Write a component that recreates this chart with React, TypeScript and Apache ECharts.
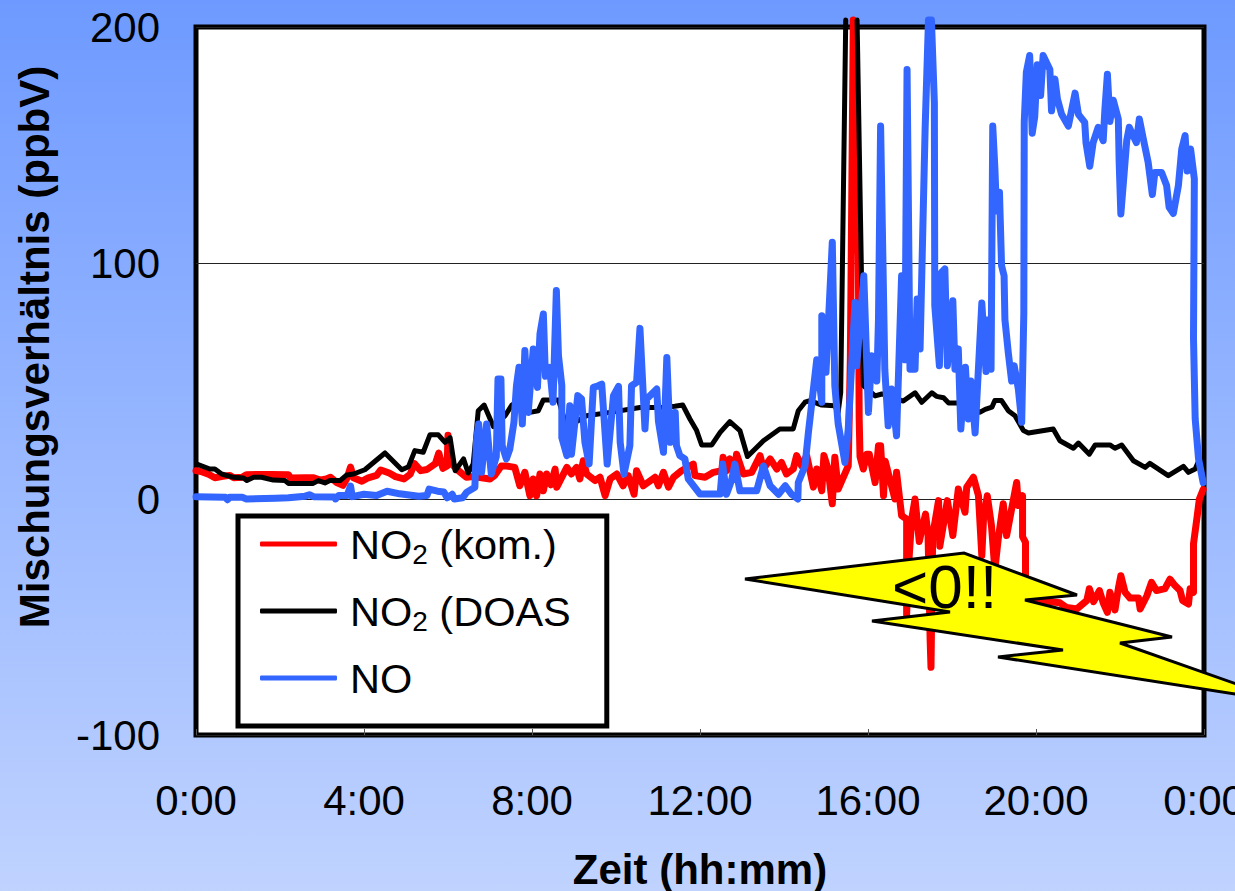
import React, { useEffect, useRef } from "react";
import * as echarts from "echarts";

const xTickHours = [0, 4, 8, 12, 16, 20, 24];
const xLabels = ["0:00", "4:00", "8:00", "12:00", "16:00", "20:00", "0:00"];
const seriesNames = ["NO2 (kom.)", "NO2 (DOAS", "NO"];
const xTitle = "Zeit (hh:mm)";
const yTitle = "Mischungsverhältnis (ppbV)";
const calloutText = "<0!!";

const no2Kom: number[][] = [
  [0,12],[0.15,11.5],[0.3,10.5],[0.45,9],[0.6,9.5],[0.8,10],[0.9,9],[1.1,9.2],[1.2,10.3],[1.5,10.4],[1.8,10.4],[2.2,10.3],[2.25,8.9],[2.6,9],[2.8,9],[2.95,8],[3.1,8.5],[3.2,9.2],[3.35,7],[3.5,5.8],[3.6,9],[3.68,13.5],[3.75,9],[3.95,7.5],[4.1,9],[4.3,10],[4.4,12.3],[4.6,11],[4.75,9.5],[4.95,8.5],[5.1,10.5],[5.2,15],[5.35,12],[5.5,12.5],[5.7,15],[5.78,19.5],[5.88,13],[5.98,14],[6.0,27],[6.08,15],[6.25,12],[6.44,9.2],[6.6,9.5],[7.0,8.5],[7.11,10],[7.27,14],[7.39,14],[7.59,13.4],[7.71,5.6],[7.83,11.3],[7.95,1.4],[8.03,8.5],[8.11,1.4],[8.19,10.6],[8.27,3.5],[8.35,10.6],[8.45,6],[8.55,12.7],[8.59,5],[8.83,13.4],[8.94,10.6],[9.06,13.4],[9.14,8.5],[9.22,16.2],[9.3,10.6],[9.5,7.8],[9.62,9.2],[9.74,1.4],[9.86,8.5],[10.02,10.6],[10.17,5.6],[10.29,9.9],[10.43,2],[10.49,12],[10.65,5.6],[10.93,9.2],[11.01,5.6],[11.13,11.3],[11.25,5],[11.37,9.2],[11.56,12],[11.84,14.8],[11.88,9.9],[12.12,9.2],[12.32,11.3],[12.52,12],[12.55,17.7],[12.64,12],[12.71,17],[12.83,12],[12.87,19],[13.03,10.6],[13.23,11.3],[13.43,18.4],[13.51,12.7],[13.67,17],[13.83,12.7],[13.94,15.5],[14.06,10.6],[14.22,12.7],[14.3,18.4],[14.42,14],[14.54,18.4],[14.7,5],[14.78,12.7],[14.9,3.5],[14.95,18.4],[15.05,12.7],[15.15,-2],[15.21,17.7],[15.29,4.2],[15.53,14],[15.58,60],[15.65,203],[15.72,160],[15.77,103],[15.79,34],[15.81,18],[15.89,12.7],[15.97,19],[16.03,19],[16.17,7],[16.25,22.6],[16.3,22.6],[16.37,1.4],[16.41,16],[16.64,0],[16.68,11.3],[16.8,-7],[16.92,-8.5],[16.92,-49],[16.96,-30],[17.04,-8.5],[17.12,0],[17.22,-18],[17.37,-6.4],[17.43,-15],[17.48,-60],[17.5,-71.3],[17.54,-15.5],[17.68,-0.7],[17.71,-20],[17.89,-0.7],[18.02,-15.5],[18.15,4.2],[18.31,-5.6],[18.35,5],[18.51,9.2],[18.63,1.4],[18.71,-24],[18.75,-8.5],[18.84,1.4],[18.94,-11.3],[19.02,-30],[19.1,-17],[19.22,-2],[19.3,-15.5],[19.42,-4.2],[19.54,7],[19.58,-2.8],[19.68,1.4],[19.68,-16],[19.75,-18.4],[19.75,-39.5],[19.94,-42],[20.33,-43.5],[20.57,-44],[20.73,-46],[20.97,-46.6],[21.21,-43],[21.27,-38],[21.37,-43.5],[21.51,-38.8],[21.6,-44],[21.7,-48],[21.76,-39.5],[21.88,-47],[21.96,-38],[22.02,-32.5],[22.12,-39.5],[22.24,-42],[22.44,-42],[22.48,-46.6],[22.64,-41],[22.75,-35.3],[22.87,-38.8],[23.07,-38],[23.19,-34],[23.31,-36.7],[23.43,-38.8],[23.49,-43],[23.63,-44.5],[23.67,-38],[23.75,-39.5],[23.75,-19],[23.84,-7],[23.89,0],[23.98,4],
];

const no2Doas: (number | null)[][] = [
  [0.02,14.8],[0.33,12.7],[0.45,12.7],[0.61,10.6],[0.89,9.2],[1.13,8.9],[1.21,7.8],[1.37,9.2],[1.56,9.2],[1.84,8],[2.12,7.8],[2.2,6.6],[2.79,6.6],[2.91,7.8],[3.07,6.8],[3.19,7.8],[3.43,7.8],[3.59,10.2],[3.75,10.6],[4.02,12.4],[4.5,19.5],[4.9,12.4],[5.06,13.7],[5.21,20.5],[5.41,19.8],[5.57,27.2],[5.77,27.2],[5.93,24],[6.05,26],[6.17,12],[6.37,17],[6.48,11],[6.6,14.8],[6.72,37.4],[6.86,39.8],[7.08,30.7],[7.36,35.3],[7.52,39.8],[7.67,41.5],[7.95,36.7],[8.15,37.4],[8.27,42],[8.63,42],[8.83,30.4],[9.3,35.3],[9.86,36.7],[10.57,38.8],[11.13,38.8],[11.4,39.3],[11.59,39.8],[11.76,33.9],[11.92,29],[12.04,22.9],[12.28,22.9],[12.48,28.2],[12.71,32.8],[12.95,29],[13.13,18],[13.51,24.7],[13.9,29.7],[14.22,29.7],[14.34,37.4],[14.5,41],[14.62,41.7],[14.9,39.8],[15.21,39.5],[15.29,36.7],[15.35,45],[15.47,203],[15.6,null],[15.74,203],[15.89,48],[16.17,43.7],[16.33,44.5],[16.84,41.5],[17.12,45],[17.28,41],[17.52,45],[17.63,43.5],[17.8,42.9],[17.92,40.7],[18.15,40.7],[18.67,36.8],[18.79,38],[18.95,38.9],[19.02,41.7],[19.18,41.7],[19.34,37.4],[19.5,35.3],[19.7,29],[19.82,28],[20.41,29.7],[20.57,24.7],[20.89,21.5],[21.01,23.7],[21.27,19],[21.41,22.9],[21.76,22.9],[21.88,21.5],[22.04,22.9],[22.32,16.2],[22.6,13.4],[22.71,15.1],[23.15,9.9],[23.51,13.8],[23.63,11.3],[23.79,12.7],[23.87,16],[23.98,7],
];

const no: number[][] = [
  [0,1],[0.7,0.7],[0.75,-0.3],[0.8,0.7],[1.1,0.7],[1.2,0],[1.9,0.3],[2.2,0.5],[2.6,1.2],[2.7,1.8],[2.8,1],[3.3,0.9],[3.32,0],[3.4,1.5],[3.6,1.5],[3.68,5.5],[3.72,1],[4.0,2],[4.3,1.5],[4.55,3.3],[4.85,2.2],[5.3,1.2],[5.5,1.5],[5.55,4.2],[5.75,3.3],[5.9,3],[5.98,0.5],[6.1,2],[6.15,0],[6.35,0.5],[6.44,2.8],[6.64,5],[6.68,25],[6.73,31.8],[6.8,11.3],[6.92,31.8],[7.03,10.6],[7.15,18],[7.19,50.8],[7.26,50.8],[7.29,22.6],[7.39,17],[7.47,21],[7.57,32.5],[7.63,48],[7.69,55.8],[7.77,31.8],[7.83,62.9],[7.91,36.7],[8.03,63.6],[8.13,47.3],[8.19,70],[8.27,78.4],[8.32,52],[8.42,55.8],[8.5,41],[8.58,88.3],[8.63,60.7],[8.71,48],[8.71,26],[8.83,18.4],[8.9,39.5],[8.94,19],[9.09,43.8],[9.18,42.4],[9.26,24],[9.36,14.8],[9.46,47.3],[9.58,48],[9.66,48.7],[9.79,14.8],[9.94,43.8],[10.06,47.7],[10.1,24],[10.19,10.6],[10.33,22.6],[10.37,48],[10.49,49.4],[10.57,72.3],[10.69,29.7],[10.73,42.4],[10.97,46.6],[11.01,33],[11.13,19.8],[11.21,60],[11.29,24],[11.41,36.7],[11.44,22.6],[11.52,18.4],[11.64,17],[11.72,8.5],[12,2.1],[12.48,2.1],[12.54,14.8],[12.63,2],[12.75,7.8],[12.83,14.8],[12.95,3.5],[13.35,3.5],[13.51,14],[13.67,5.6],[13.87,2],[14.03,5.6],[14.18,2],[14.33,0],[14.34,7],[14.5,14],[14.58,28],[14.7,46.6],[14.78,59],[14.9,41],[14.9,77.7],[15,53.7],[15.15,108.8],[15.21,48],[15.29,31.8],[15.45,15.5],[15.53,29.7],[15.69,83.3],[15.73,56.5],[15.9,94.6],[16.01,36.7],[16.09,60.7],[16.21,50],[16.25,76.3],[16.3,158],[16.4,55],[16.48,31],[16.56,46.6],[16.68,26.8],[16.8,94.6],[16.88,59],[16.93,182],[17,55],[17.12,55],[17.17,84.7],[17.24,63.6],[17.36,156.8],[17.44,203],[17.51,203],[17.58,168],[17.59,82],[17.7,56.5],[17.75,96],[17.83,97.5],[17.89,56.5],[18.02,84],[18.07,55],[18.15,63.6],[18.21,29.7],[18.32,55.8],[18.39,33.9],[18.45,50],[18.55,28],[18.71,83],[18.81,54],[18.86,76],[18.93,55],[18.97,158],[19.02,140.5],[19.06,122],[19.13,130],[19.18,98.9],[19.24,94.6],[19.26,76],[19.34,62],[19.42,50],[19.48,56.5],[19.58,46.6],[19.66,32.5],[19.71,79],[19.72,159.6],[19.77,180.8],[19.85,187.9],[19.91,155],[19.97,162],[20.03,184],[20.11,171],[20.17,187.9],[20.33,182],[20.37,164.5],[20.45,178],[20.51,169.5],[20.61,163],[20.77,158],[20.93,172],[21.01,163],[21.16,159.6],[21.19,151],[21.28,141],[21.36,151],[21.48,157.5],[21.6,151.8],[21.64,165],[21.7,180],[21.76,160],[21.84,169],[21.96,161],[21.98,142.7],[22.02,120.8],[22.1,138.4],[22.16,151.8],[22.22,157.5],[22.39,151],[22.46,161],[22.55,153],[22.67,142.7],[22.77,129],[22.83,138.4],[22.99,138.4],[23.11,132.8],[23.17,123.6],[23.27,121],[23.39,132.8],[23.47,148.3],[23.55,154],[23.6,139],[23.68,148.3],[23.77,135.6],[23.75,68],[23.79,34],[23.87,17],[23.98,7],
];

const FONT = "Liberation Sans";
const RED = "#ff0000";
const BLUE = "#3366ff";

export default function App() {
  const ref = useRef<HTMLDivElement>(null);
  useEffect(() => {
    const chart = echarts.init(ref.current!, undefined, { renderer: "svg" });
    const lineSeries = (name: string, data: (number | null)[][], color: string, width: number) => ({
      name,
      type: "line",
      data,
      showSymbol: false,
      symbol: "none",
      clip: false,
      connectNulls: false,
      lineStyle: { color, width, cap: "round", join: "round" },
      itemStyle: { color },
    });
    chart.setOption({
      animation: false,
      backgroundColor: {
        type: "linear", x: 0, y: 0, x2: 0, y2: 1,
        colorStops: [{ offset: 0, color: "#6e9aff" }, { offset: 1, color: "#c0d3ff" }],
      },
      grid: {
        show: true, left: 196, right: 31, top: 27, bottom: 156, outerBoundsMode: "none",
        backgroundColor: "#ffffff", borderColor: "#000000", borderWidth: 5,
      },
      xAxis: {
        type: "value", min: xTickHours[0], max: xTickHours[xTickHours.length - 1], interval: 4,
        name: xTitle, nameLocation: "middle", nameGap: 113,
        nameTextStyle: { fontFamily: FONT, fontSize: 42, fontWeight: "bold", color: "#000" },
        splitLine: { show: false },
        axisLine: { show: false, onZero: false },
        axisTick: { show: true, inside: true, length: 6, lineStyle: { color: "#555", width: 1 } },
        axisLabel: {
          margin: 44, fontFamily: FONT, fontSize: 42, color: "#000", hideOverlap: false,
          showMinLabel: true, showMaxLabel: true,
          formatter: (v: number) => xLabels[xTickHours.indexOf(v)] ?? "",
        },
      },
      yAxis: {
        type: "value", min: -100, max: 200, interval: 100,
        name: yTitle, nameLocation: "middle", nameGap: 141,
        nameTextStyle: {
          fontFamily: FONT, fontSize: 42, fontWeight: "bold", color: "#000",
          padding: [0, 0, 0, 68],
        },
        splitLine: { show: true, lineStyle: { color: "#222", width: 1 } },
        axisLine: { show: false },
        axisTick: { show: false },
        axisLabel: { margin: 36, fontFamily: FONT, fontSize: 42, color: "#000" },
      },
      legend: {
        show: true, orient: "vertical", left: 238, top: 516,
        padding: [7, 36, 27, 22], itemGap: 22,
        backgroundColor: "#ffffff", borderColor: "#000000", borderWidth: 5,
        icon: "roundRect", itemWidth: 77, itemHeight: 5,
        data: seriesNames,
        formatter: (n: string) => n.replace("NO2", "NO{sub|2}"),
        textStyle: {
          fontFamily: FONT, fontSize: 41.5, color: "#000", padding: [0, 0, 0, 8],
          rich: { sub: { fontFamily: FONT, fontSize: 28, color: "#000", padding: [20, 0, 0, 0] } },
        },
      },
      series: [
        lineSeries(seriesNames[0], no2Kom, RED, 7),
        lineSeries(seriesNames[1], no2Doas, "#000000", 5),
        lineSeries(seriesNames[2], no, BLUE, 7),
      ],
      graphic: [
        {
          type: "polygon", z: 100,
          shape: {
            points: [
              [745, 579], [964, 553], [1077, 595], [1025, 600], [1172, 637], [1120, 643],
              [1245, 687], [1235, 694], [998, 657], [1063, 650], [872, 621], [950, 612],
            ],
          },
          style: { fill: "#ffff00", stroke: "#000000", lineWidth: 3 },
        },
        {
          type: "text", z: 101, left: 892, top: 555,
          style: { text: calloutText, fontFamily: FONT, fontSize: 62, fill: "#000000" },
        },
      ],
    });
    return () => chart.dispose();
  }, []);
  return (
    <div
      ref={ref}
      style={{ position: "fixed", left: 0, top: 0, width: 1235, height: 891, overflow: "hidden" }}
    />
  );
}
